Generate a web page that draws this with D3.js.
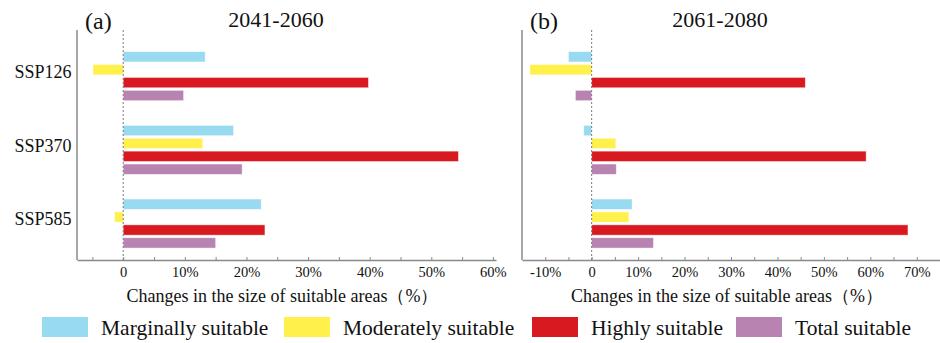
<!DOCTYPE html>
<html>
<head>
<meta charset="utf-8">
<script src="https://cdn.jsdelivr.net/npm/d3@7"></script>
<style>
  html, body { margin: 0; padding: 0; background: #fff; }
  svg { display: block; }
  text { font-family: "Liberation Serif", "Times New Roman", serif; fill: #111; }
</style>
</head>
<body>
<svg id="chart" width="940" height="343"></svg>
<script>
// ---- data ----
const scenarios = ["SSP126", "SSP370", "SSP585"];
const seriesNames = ["Marginally suitable", "Moderately suitable", "Highly suitable", "Total suitable"];
const seriesColors = ["#98DAF0", "#FFF04C", "#D8191F", "#B883B0"];

// 2041-2060 (%)
const marginal2041 = [13.3, 17.9, 22.4];
const moderate2041 = [-4.9, 12.9, -1.4];
const high2041     = [39.8, 54.4, 23.0];
const total2041    = [9.8, 19.3, 15.0];

// 2061-2080 (%)
const marginal2061 = [-5.0, -1.7, 8.7];
const moderate2061 = [-13.3, 5.2, 8.0];
const high2061     = [46.0, 59.1, 68.1];
const total2061    = [-3.5, 5.3, 13.3];

const ticksA = [0, 10, 20, 30, 40, 50, 60];
const ticksB = [-10, 0, 10, 20, 30, 40, 50, 60, 70];
const minorA = [-5, 5, 15, 25, 35, 45, 55];
const minorB = [-5, 5, 15, 25, 35, 45, 55, 65];

const axisTitle = "Changes in the size of suitable areas（%）";

const panels = [
  { tag: "(a)", title: "2041-2060", series: [marginal2041, moderate2041, high2041, total2041],
    domain: [-7.5, 60.5], range: [77, 496], ticks: ticksA, minor: minorA, showY: true },
  { tag: "(b)", title: "2061-2080", series: [marginal2061, moderate2061, high2061, total2061],
    domain: [-15, 75], range: [522, 940], ticks: ticksB, minor: minorB, showY: false }
];

const svg = d3.select("#chart");
const axisColor = "#8a8a8a";
const yTop = 30, yBottom = 260;

const y0 = d3.scaleBand().domain(scenarios).range([39.3, 260.4]).paddingInner(0.3).paddingOuter(0.15);
const y1 = d3.scaleBand().domain(seriesNames).range([0, y0.bandwidth()]).paddingInner(0.2).paddingOuter(0.1);

panels.forEach(p => {
  const g = svg.append("g");
  const x = d3.scaleLinear().domain(p.domain).range(p.range);

  // bars
  scenarios.forEach((sc, i) => {
    p.series.forEach((vals, k) => {
      const v = vals[i];
      g.append("rect")
        .attr("x", x(Math.min(0, v)))
        .attr("y", y0(sc) + y1(seriesNames[k]))
        .attr("width", Math.abs(x(v) - x(0)))
        .attr("height", y1.bandwidth())
        .attr("fill", seriesColors[k])
        .attr("stroke", "rgba(255,255,255,0.55)")
        .attr("stroke-width", 0.8);
    });
  });

  // zero dashed line
  g.append("line")
    .attr("x1", x(0)).attr("x2", x(0))
    .attr("y1", yTop).attr("y2", yBottom)
    .attr("stroke", "#777").attr("stroke-width", 1)
    .attr("stroke-dasharray", "2,2");

  // x axis
  const xAxis = d3.axisBottom(x)
    .tickValues(p.ticks)
    .tickSizeInner(-3).tickSizeOuter(0)
    .tickFormat(d => d === 0 ? "0" : d + "%");
  const ax = g.append("g").attr("transform", `translate(0,${yBottom})`).call(xAxis);
  ax.select(".domain").attr("stroke", axisColor).attr("stroke-width", 1.5);
  ax.selectAll(".tick line").attr("stroke", axisColor);
  ax.selectAll(".tick text")
    .attr("y", 16.5).attr("dy", 0)
    .style("font-family", "'Liberation Serif', serif")
    .style("font-size", "14.5px").attr("fill", "#111");

  const minorAxis = d3.axisBottom(x).tickValues(p.minor).tickSizeInner(-3).tickSizeOuter(0).tickFormat("");
  const mx = g.append("g").attr("transform", `translate(0,${yBottom})`).call(minorAxis);
  mx.select(".domain").remove();
  mx.selectAll(".tick line").attr("stroke", axisColor);

  // y axis line
  const yAxis = d3.axisLeft(y0).tickSize(0).tickPadding(5);
  const ay = g.append("g").attr("transform", `translate(${p.range[0]},0)`).call(yAxis);
  ay.select(".domain").attr("d", `M0,${yTop}V${yBottom}`).attr("stroke", axisColor).attr("stroke-width", 1.5);
  if (p.showY) {
    ay.selectAll(".tick text")
      .attr("x", -5.5)
      .attr("dy", "0.1em")
      .style("font-family", "'Liberation Serif', serif")
      .style("font-size", "18px").attr("fill", "#111");
  } else {
    ay.selectAll(".tick text").remove();
  }

  // titles
  g.append("text")
    .attr("x", p.range[0] + 8).attr("y", 29)
    .style("font-size", "24px")
    .text(p.tag);
  g.append("text")
    .attr("x", p.showY ? 276 : 720).attr("y", 27)
    .attr("text-anchor", "middle")
    .style("font-size", "22px")
    .text(p.title);

  // axis title
  g.append("text")
    .attr("x", p.showY ? 282.5 : 727).attr("y", 301.5)
    .attr("text-anchor", "middle")
    .style("font-size", "18px")
    .text(axisTitle);
});

// legend
const legendX = [42, 284, 532, 736];
const legend = svg.append("g");
seriesNames.forEach((name, k) => {
  legend.append("rect")
    .attr("x", legendX[k]).attr("y", 317)
    .attr("width", 46).attr("height", 20)
    .attr("fill", seriesColors[k]);
  legend.append("text")
    .attr("x", legendX[k] + 59).attr("y", 334.5)
    .style("font-size", "21.5px")
    .text(name);
});
</script>
</body>
</html>
